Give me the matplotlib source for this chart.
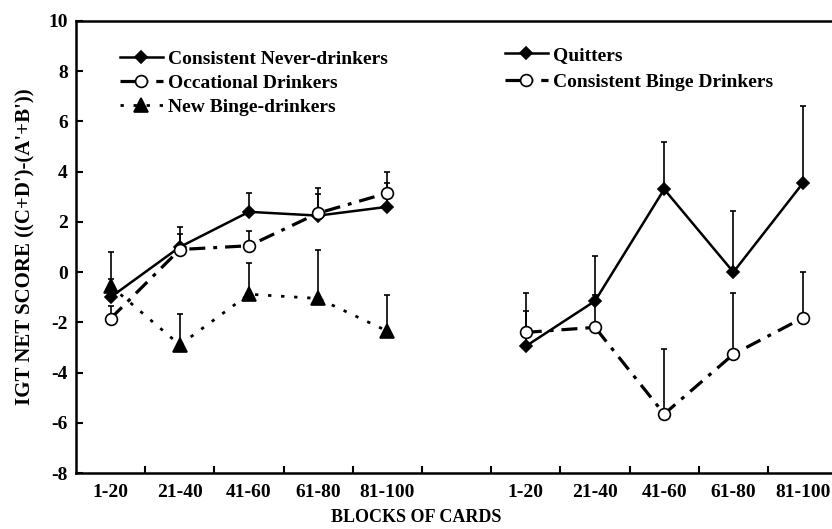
import matplotlib
matplotlib.use("Agg")
import matplotlib.pyplot as plt
import numpy as np

plt.rcParams['font.family'] = ['Liberation Serif', 'DejaVu Serif']
plt.rcParams['font.weight'] = 'bold'
plt.rcParams['axes.unicode_minus'] = False

# blocks of cards, shown twice (left panel and right panel)
blocks = ["1-20", "21-40", "41-60", "61-80", "81-100"]

# left panel groups
never = [-1.0, 1.0, 2.4, 2.25, 2.6]
never_top = [-0.28, 1.8, 3.15, 3.1, 3.55]
occ = [-1.85, 0.9, 1.05, 2.35, 3.15]
occ_top = [-1.35, 1.5, 1.65, 3.35, 4.0]
newb = [-0.55, -2.9, -0.88, -1.05, -2.35]
newb_top = [0.8, -1.65, 0.37, 0.88, -0.9]

# right panel groups
quit = [-2.95, -1.15, 3.3, 0.0, 3.53]
quit_top = [-0.85, 0.64, 5.2, 2.45, 6.6]
cbd = [-2.4, -2.2, -5.65, -3.27, -1.83]
cbd_top = [-1.55, -0.9, -3.07, -0.85, 0.0]

xl = np.arange(len(blocks)) + 0.5
xr = xl + 6

fig = plt.figure(figsize=(8.32, 5.29), dpi=100)
ax = fig.add_axes([76 / 832, 1 - 473 / 529, 1 - 76 / 832, (473 - 21) / 529])

dashdot = (5, 2.5, 1.2, 2.5)
dotted = (1.2, 3.5)


def draw(x, y, top, marker, mfc, ms, lw, dashes, label):
    y = np.array(y)
    up = np.array(top) - y
    ax.errorbar(x, y, yerr=[np.zeros_like(up), up], fmt='none', ecolor='black',
                elinewidth=1.2, capsize=2.5, capthick=1.2, zorder=2)
    line, = ax.plot(x, y, color='black', lw=lw, marker=marker, ms=ms,
                    mfc=mfc, mec='black', mew=1.2, label=label, zorder=3)
    if dashes:
        line.set_dashes(dashes)
    return line


h1 = draw(xl, never, never_top, 'D', 'black', 6, 1.8, None, "Consistent Never-drinkers")
h2 = draw(xl, occ, occ_top, 'o', 'white', 8.5, 2.3, dashdot, "Occational Drinkers")
h3 = draw(xl, newb, newb_top, '^', 'black', 10, 2.0, dotted, "New Binge-drinkers")
h4 = draw(xr, quit, quit_top, 'D', 'black', 6, 1.8, None, "Quitters")
h5 = draw(xr, cbd, cbd_top, 'o', 'white', 8.5, 2.3, dashdot, "Consistent Binge Drinkers")

ax.set_xlim(0, (832 - 76) / 69.2)
ax.set_ylim(-8, 10)
ax.set_yticks(np.arange(-8, 11, 2))
ax.set_xticks(np.arange(1, 11))
ax.set_xticklabels([])
ax.set_xticks(np.concatenate([xl, xr]), minor=True)
ax.set_xticklabels(blocks + blocks, minor=True)
ax.tick_params(axis='x', which='major', direction='in', length=5, width=1.5)
ax.tick_params(axis='x', which='minor', length=0, pad=8, labelsize=14)
ax.tick_params(axis='y', direction='in', length=5, width=1.5, labelsize=14, pad=6)
for lab in ax.get_xticklabels(minor=True) + ax.get_yticklabels():
    lab.set_fontweight('bold')

for s in ['left', 'top', 'bottom']:
    ax.spines[s].set_linewidth(1.8)
ax.spines['right'].set_visible(False)

ax.set_ylabel("IGT NET SCORE ((C+D')-(A'+B'))", fontsize=15, fontweight='bold', labelpad=9)
fig.text(416 / 832, 1 - 517 / 529, "BLOCKS OF CARDS", ha='center', va='center',
         fontsize=13, fontweight='bold')

leg_kw = dict(frameon=False, fontsize=14, handlelength=2.2, handletextpad=0.26,
              borderpad=0, borderaxespad=0, numpoints=1,
              bbox_transform=fig.transFigure, loc='upper left')
leg1 = ax.legend(handles=[h1, h2, h3], bbox_to_anchor=(120 / 832, 1 - 50 / 529),
                 labelspacing=0.34, **leg_kw)
ax.add_artist(leg1)
ax.legend(handles=[h4, h5], bbox_to_anchor=(505 / 832, 1 - 46 / 529),
          labelspacing=0.5, **leg_kw)

fig.savefig("out.png", dpi=100)
